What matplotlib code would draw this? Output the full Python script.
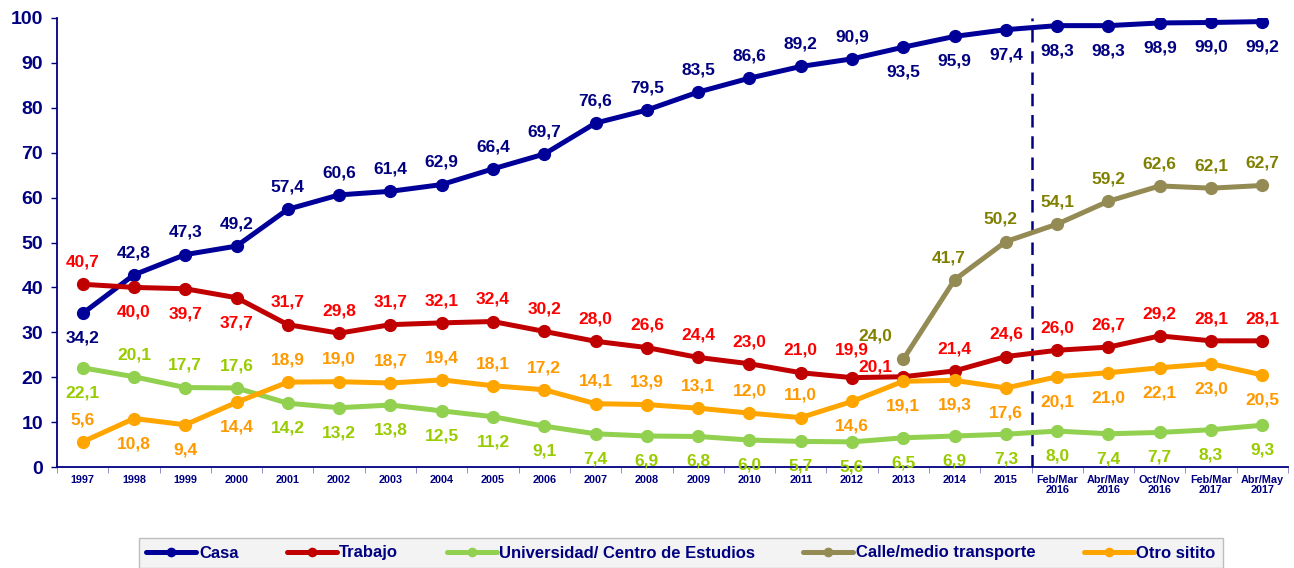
import matplotlib
matplotlib.use("Agg")
import matplotlib.pyplot as plt
import numpy as np

categories = ["1997", "1998", "1999", "2000", "2001", "2002", "2003", "2004", "2005",
              "2006", "2007", "2008", "2009", "2010", "2011", "2012", "2013", "2014",
              "2015", "Feb/Mar\n2016", "Abr/May\n2016", "Oct/Nov\n2016", "Feb/Mar\n2017",
              "Abr/May\n2017"]

casa = [34.2, 42.8, 47.3, 49.2, 57.4, 60.6, 61.4, 62.9, 66.4, 69.7, 76.6, 79.5, 83.5,
        86.6, 89.2, 90.9, 93.5, 95.9, 97.4, 98.3, 98.3, 98.9, 99.0, 99.2]
trabajo = [40.7, 40.0, 39.7, 37.7, 31.7, 29.8, 31.7, 32.1, 32.4, 30.2, 28.0, 26.6, 24.4,
           23.0, 21.0, 19.9, 20.1, 21.4, 24.6, 26.0, 26.7, 29.2, 28.1, 28.1]
universidad = [22.1, 20.1, 17.7, 17.6, 14.2, 13.2, 13.8, 12.5, 11.2, 9.1, 7.4, 6.9, 6.8,
               6.0, 5.7, 5.6, 6.5, 6.9, 7.3, 8.0, 7.4, 7.7, 8.3, 9.3]
calle = [None] * 16 + [24.0, 41.7, 50.2, 54.1, 59.2, 62.6, 62.1, 62.7]
otro = [5.6, 10.8, 9.4, 14.4, 18.9, 19.0, 18.7, 19.4, 18.1, 17.2, 14.1, 13.9, 13.1,
        12.0, 11.0, 14.6, 19.1, 19.3, 17.6, 20.1, 21.0, 22.1, 23.0, 20.5]

series_names = ["Casa", "Trabajo", "Universidad/ Centro de Estudios",
                "Calle/medio transporte", "Otro sitito"]

plt.rcParams['font.family'] = ['Liberation Sans', 'DejaVu Sans']

fig = plt.figure(figsize=(12.94, 5.68), dpi=100)
ax = fig.add_axes([57 / 1294, 1 - 467 / 568, (1288 - 57) / 1294, (467 - 18) / 568])

x = np.arange(len(categories))

# label placement offsets in points
A, B = (0, 16), (0, -18)
casa_pos = [B] + [A] * 15 + [B] * 8
trab_pos = [A, B, B, B] + [A] * 11 + [(0, 20), (-20, 7)] + [A] * 7
univ_pos = [B, A, A, A] + [B] * 20
calle_pos = [None] * 16 + [(-20, 17), (-4, 16), (-4, 16), A, A, A, A, A]
otro_pos = [A, B, B, B] + [A] * 11 + [B] * 9

specs = [
    (casa, "#000099", "#000080", casa_pos),
    (trabajo, "#c00000", "#ff0000", trab_pos),
    (universidad, "#92d050", "#99cc00", univ_pos),
    (calle, "#948a54", "#808000", calle_pos),
    (otro, "#ffa500", "#ff9900", otro_pos),
]

handles = []
for (vals, lc, tc, pos), name in zip(specs, series_names):
    xs = [xi for xi, v in zip(x, vals) if v is not None]
    ys = [v for v in vals if v is not None]
    h, = ax.plot(xs, ys, color=lc, lw=3.6, marker="o", ms=8.5, label=name,
                 solid_capstyle="round", zorder=3)
    handles.append(h)
    for xi, v, p in zip(x, vals, pos):
        if v is None:
            continue
        ax.annotate(f"{v:.1f}".replace(".", ","), (xi, v), xytext=p,
                    textcoords="offset points", ha="center", va="center",
                    color=tc, fontsize=12.5, fontweight="bold", zorder=4)

ax.axvline(18.5, color="#000080", lw=1.8, ls=(0, (5, 3.5)), zorder=2)

ax.set_xlim(-0.5, len(categories) - 0.5)
ax.set_ylim(0, 100)
ax.set_yticks(np.arange(0, 101, 10))
ax.tick_params(axis="y", colors="#000080", labelsize=14, length=4, width=1,
               direction="out", pad=6)
for t in ax.get_yticklabels():
    t.set_fontweight("bold")
    t.set_color("#000080")
ax.set_xticks(x)
ax.set_xticklabels(categories, fontsize=7.8, fontweight="bold", color="#000080",
                   linespacing=1.0)
ax.set_xticks(np.arange(-0.5, len(categories), 1), minor=True)
ax.tick_params(axis="x", which="major", length=0, pad=6)
ax.tick_params(axis="x", which="minor", length=4, color="#8080c0")
for s in ["top", "right"]:
    ax.spines[s].set_visible(False)
for s in ["left", "bottom"]:
    ax.spines[s].set_color("#000080")
    ax.spines[s].set_linewidth(1.3)

leg = fig.legend(handles=handles, loc="center", bbox_to_anchor=(681 / 1294, 1 - 553 / 568),
                 ncol=5, frameon=True, fancybox=False,
                 prop={"weight": "bold", "size": 12},
                 handlelength=3.0, handletextpad=0.15, columnspacing=2.9,
                 borderpad=0.45, markerscale=0.7)
leg.get_frame().set_facecolor("#f0f0f0")
leg.get_frame().set_edgecolor("#b0b0b0")
leg.get_frame().set_linewidth(1)
for t in leg.get_texts():
    t.set_color("#000080")

fig.savefig("out.png", dpi=100)
